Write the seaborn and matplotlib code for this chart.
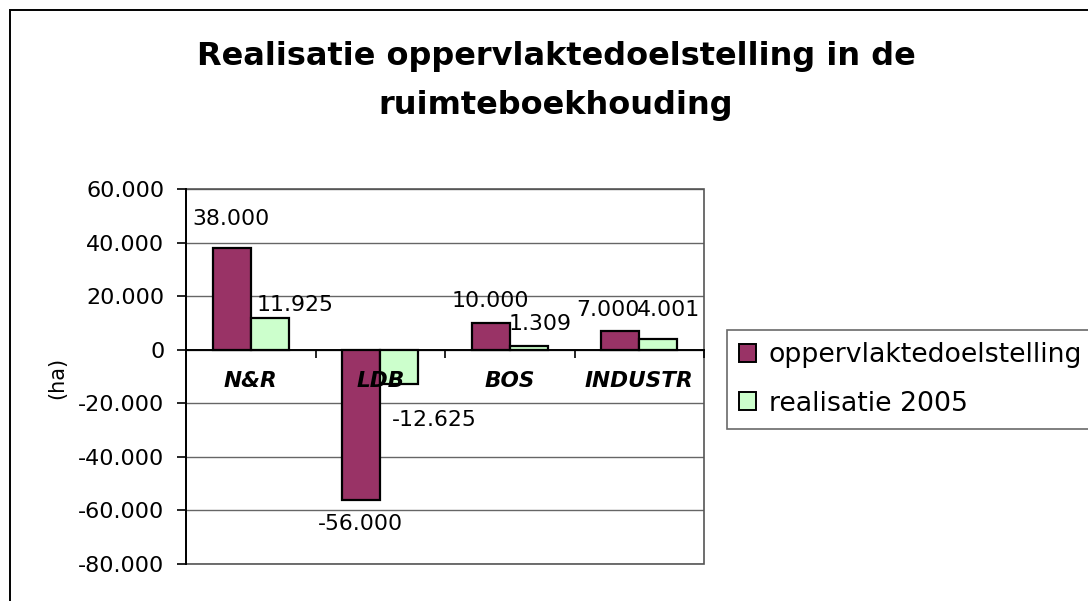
import matplotlib
matplotlib.use("Agg")
import matplotlib.pyplot as plt
import matplotlib.patches as mpatches
import pandas as pd
import seaborn as sns

# ---- data ----
categories = ["N&R", "LDB", "BOS", "INDUSTR"]
series_names = ["oppervlaktedoelstelling", "realisatie 2005"]
doelstelling = [38000, -56000, 10000, 7000]
realisatie = [11925, -12625, 1309, 4001]
y_ticks = [-80000, -60000, -40000, -20000, 0, 20000, 40000, 60000]
title_text = "Realisatie oppervlaktedoelstelling in de\nruimteboekhouding"
y_label = "(ha)"

# label offsets in pixels (dx, dy) relative to bar centre / bar end
label_offsets = [
    [(-1, 29), (-1, 24), (0, 22), (-12, 21)],
    [(25, 13), (35, 36), (11, 22), (10, 29)],
]

colors = ["#993366", "#CCFFCC"]

def fmt(v):
    s = f"{abs(v):,.0f}".replace(",", ".")
    return ("-" if v < 0 else "") + s

df = pd.DataFrame({
    "cat": categories * 2,
    "series": [series_names[0]] * 4 + [series_names[1]] * 4,
    "value": doelstelling + realisatie,
})

sns.set_theme(style="white")
plt.rcParams["font.family"] = ["DejaVu Sans"]
plt.rcParams["text.color"] = "black"
plt.rcParams["axes.labelcolor"] = "black"
plt.rcParams["xtick.color"] = "black"
plt.rcParams["ytick.color"] = "black"

W, H, DPI = 1088, 601, 100
fig = plt.figure(figsize=(W / DPI, H / DPI), dpi=DPI)
fig.patch.set_facecolor("white")

ax_l, ax_r, ax_t, ax_b = 186, 704, 189, 564
ax = fig.add_axes([ax_l / W, 1 - ax_b / H, (ax_r - ax_l) / W, (ax_b - ax_t) / H])

sns.barplot(data=df, x="cat", y="value", hue="series", order=categories,
            hue_order=series_names, palette=colors, saturation=1,
            width=0.59, edgecolor="black", linewidth=1.6, legend=False,
            errorbar=None, ax=ax, zorder=3)

ax.set_ylim(-80000, 60000)
ax.set_xlim(-0.5, 3.5)
ax.set_yticks(y_ticks)
ax.set_yticklabels([fmt(v) for v in y_ticks], fontsize=16, color="black")
ax.set_xlabel("")
ax.set_ylabel("")

# gridlines
ax.yaxis.grid(True, color="#666666", linewidth=1.0)
ax.set_axisbelow(True)
ax.xaxis.set_zorder(5)

for s in ["top", "right"]:
    ax.spines[s].set_visible(False)
ax.spines["left"].set_color("black")
ax.spines["left"].set_linewidth(1.4)
ax.spines["bottom"].set_position(("data", 0))
ax.spines["bottom"].set_color("black")
ax.spines["bottom"].set_linewidth(1.4)
ax.spines["bottom"].set_zorder(4)

# plot-area frame
ax.add_patch(mpatches.Rectangle((0, 0), 1, 1, transform=ax.transAxes, fill=False,
                                edgecolor="#555555", linewidth=1.2, zorder=1,
                                clip_on=False))

# x ticks: major at boundaries (no labels), minor at centres (labels)
ax.set_xticks([0.5, 1.5, 2.5, 3.5])
ax.set_xticklabels([])
ax.set_xticks(range(len(categories)), minor=True)
ax.set_xticklabels(categories, minor=True, fontsize=15.6, fontweight="bold",
                   fontstyle="italic", color="black")
ax.tick_params(axis="x", which="major", direction="out", length=6,
               width=1.2, color="black", bottom=True)
ax.tick_params(axis="x", which="minor", length=0, pad=15)
ax.tick_params(axis="y", direction="out", length=6.5, width=1.2,
               color="black", left=True, pad=9)

# value labels
px = 72 / DPI
for si, cont in enumerate(ax.containers):
    for ci, bar in enumerate(cont.patches):
        v = [doelstelling, realisatie][si][ci]
        xc = bar.get_x() + bar.get_width() / 2
        dx, dy = label_offsets[si][ci]
        sign = 1 if v >= 0 else -1
        ax.annotate(fmt(v), (xc, v), xytext=(dx * px, sign * dy * px),
                    textcoords="offset points", ha="center", va="center",
                    fontsize=15.8, color="black", zorder=6,
                    annotation_clip=False)

# y label
fig.text(57 / W, 1 - 378 / H, y_label, rotation=90, ha="center", va="center",
         fontsize=15, color="black")

# title
fig.text(556 / W, 1 - 81 / H, title_text, ha="center", va="center",
         fontsize=23, fontweight="bold", linespacing=1.72, color="black")

# legend
handles = [mpatches.Patch(facecolor=c, edgecolor="black", linewidth=1.4)
           for c in colors]
leg = fig.legend(handles, series_names, loc="upper left",
                 bbox_to_anchor=(727 / W, 1 - 330 / H), fontsize=19.3,
                 frameon=True, fancybox=False, shadow=False,
                 handlelength=0.65, handleheight=0.65, handletextpad=0.45,
                 borderpad=0.45, labelspacing=0.85, borderaxespad=0)
leg.get_frame().set_edgecolor("#444444")
leg.get_frame().set_linewidth(1.2)
for t in leg.get_texts():
    t.set_color("black")

# outer chart border
fig.add_artist(mpatches.Rectangle((10 / W, -0.1), 2, 1.1 - 10 / H,
                                  transform=fig.transFigure, fill=False,
                                  edgecolor="black", linewidth=1.4))

fig.savefig("out.png", dpi=DPI)
